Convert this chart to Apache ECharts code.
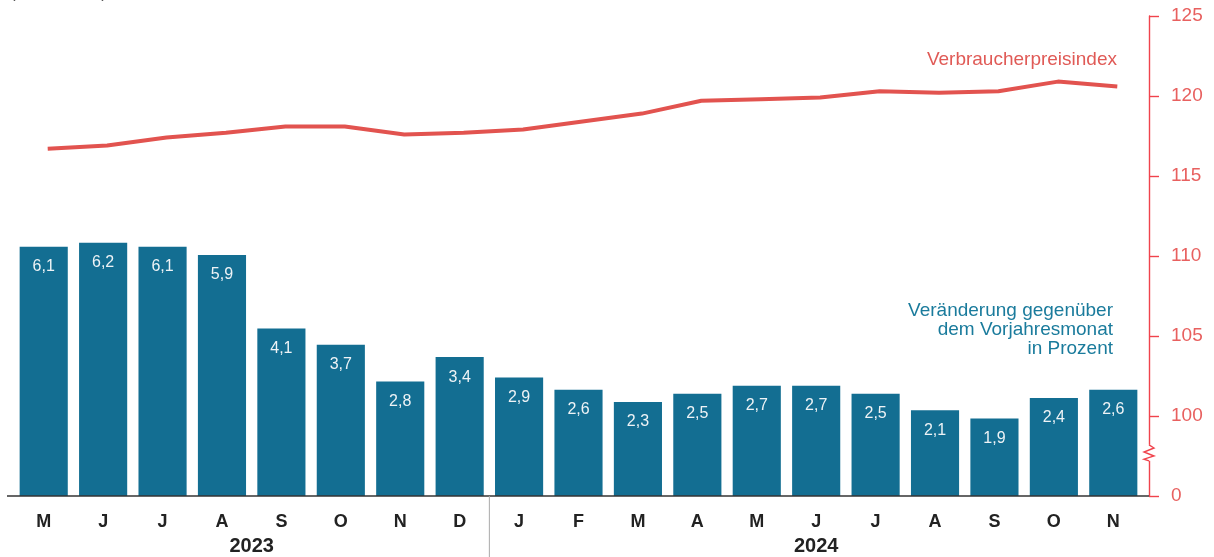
<!DOCTYPE html>
<html><head><meta charset="utf-8">
<script src="https://cdn.jsdelivr.net/npm/echarts@6/dist/echarts.min.js"></script>
<style>html,body{margin:0;padding:0;background:#fff}#c{width:1214px;height:557px}</style>
</head><body><div id="c"></div>
<script>
var months = ['M','J','J','A','S','O','N','D','J','F','M','A','M','J','J','A','S','O','N'];
var years = [{label:'2023', from:0, to:7},{label:'2024', from:8, to:18}];
var changePct = [6.1,6.2,6.1,5.9,4.1,3.7,2.8,3.4,2.9,2.6,2.3,2.5,2.7,2.7,2.5,2.1,1.9,2.4,2.6];
var cpiIndex = [116.7,116.9,117.4,117.7,118.1,118.1,117.6,117.7,117.9,118.4,118.9,119.7,119.8,119.9,120.3,120.2,120.3,120.9,120.6];
var rightTicks = [95,100,105,110,115,120,125];

var FONT = '"Liberation Sans", Arial, sans-serif';
var BAR = '#136e92', RED = '#e2534f', AXRED = '#f0434c';
var chart = echarts.init(document.getElementById('c'), null, {renderer:'canvas'});
var option = {
  animation:false,
  textStyle:{fontFamily:FONT},
  grid:[{left:14, right:71, top:16, bottom:61},{left:18, right:67, top:16, bottom:61}],
  xAxis:[{type:'category', data:months, boundaryGap:true, gridIndex:0,
    axisLine:{show:false}, axisTick:{show:false},
    axisLabel:{fontFamily:FONT, fontWeight:'bold', fontSize:18, color:'#222', margin:17}},
    {type:'category', data:months, gridIndex:1, show:false}],
  yAxis:[
    {type:'value', min:0, max:11.75, show:false, gridIndex:0},
    {type:'value', min:95, max:125, interval:5, position:'right', offset:2, gridIndex:1,
     splitLine:{show:false},
     axisLine:{show:true, lineStyle:{color:AXRED, width:1.4}},
     axisTick:{show:true, length:10, lineStyle:{color:AXRED, width:1.4}},
     axisLabel:{fontFamily:FONT, fontSize:19, color:'#e8605f', margin:22,
       formatter:function(v){return v===95?'0':String(v);}}}
  ],
  series:[
    {type:'bar', xAxisIndex:0, yAxisIndex:0, data:changePct, barCategoryGap:'19%',
     itemStyle:{color:BAR},
     label:{show:true, position:'insideTop', distance:12, color:'#eef3f6', fontSize:16, fontFamily:FONT,
       formatter:function(p){return String(p.value).replace('.',',');}}},
    {type:'line', xAxisIndex:1, yAxisIndex:1, data:cpiIndex, symbol:'none', lineStyle:{color:RED, width:4}, z:5}
  ]
};
chart.setOption(option);

var base = chart.convertToPixel({yAxisIndex:0}, 0);
var gridRect = chart.getModel().getComponent('grid', 0).coordinateSystem.getRect();
var axisX = gridRect.x + gridRect.width + 6;
var left0 = gridRect.x - 7;
var halfBand = gridRect.width / months.length / 2;
var g = [];
g.push({type:'line', shape:{x1:left0, y1:base, x2:axisX, y2:base}, style:{stroke:'#333', lineWidth:1.6}, z:10});
var sepX = chart.convertToPixel({xAxisIndex:0}, 7) + halfBand;
g.push({type:'line', shape:{x1:sepX, y1:base, x2:sepX, y2:557}, style:{stroke:'#aaa', lineWidth:1}, z:10});
years.forEach(function(y){
  var a = chart.convertToPixel({xAxisIndex:0}, y.from), b = chart.convertToPixel({xAxisIndex:0}, y.to);
  g.push({type:'text', x:(a+b)/2, y:base+50, style:{text:y.label, font:'bold 20px '+FONT, fill:'#222', textAlign:'center', textVerticalAlign:'middle'}, z:10});
});
var yb1 = chart.convertToPixel({yAxisIndex:1}, 98.2), yb2 = chart.convertToPixel({yAxisIndex:1}, 97.2);
g.push({type:'rect', shape:{x:axisX-3, y:yb1, width:6, height:yb2-yb1}, style:{fill:'#fff'}, z:11});
var h = (yb2-yb1);
g.push({type:'polyline', shape:{points:[[axisX,yb1],[axisX+5,yb1+h*0.2],[axisX-5,yb1+h*0.45],[axisX+5,yb1+h*0.7],[axisX-5,yb1+h*0.9],[axisX,yb2]]},
  style:{stroke:AXRED, lineWidth:1.4, fill:null}, z:12});
g.push({type:'text', right:1214-1117, top:50, style:{text:'Verbraucherpreisindex', font:'19px '+FONT, fill:'#e05a56', textAlign:'right'}, z:10});
g.push({type:'text', right:1214-1113, top:301, style:{text:'Veränderung gegenüber\ndem Vorjahresmonat\nin Prozent', font:'19px '+FONT, fill:'#1a7b9c', textAlign:'right', lineHeight:19}, z:10});
g.push({type:'text', left:10, top:-15, style:{text:'(2020 = 100)', font:'17px '+FONT, fill:'#555'}, z:10});
chart.setOption({graphic:g});
</script></body></html>
